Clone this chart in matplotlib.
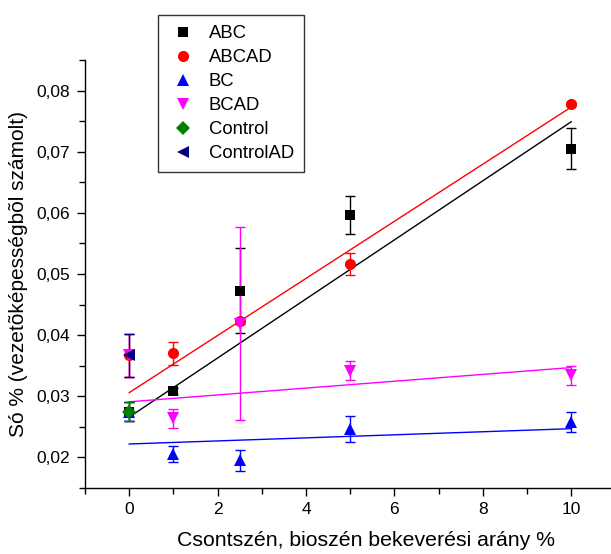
import matplotlib
matplotlib.use("Agg")
import matplotlib.pyplot as plt
from matplotlib.ticker import MultipleLocator, FuncFormatter
import numpy as np

plt.rcParams['font.family'] = ['Liberation Sans', 'DejaVu Sans']

# Data
x_vals = [0, 1, 2.5, 5, 10]

abc_y = [0.0275, 0.0309, 0.0473, 0.0597, 0.0705]
abc_err = [0.0016, 0.0005, 0.0069, 0.0031, 0.0034]

abcad_y = [0.0367, 0.0370, 0.0423, 0.0516, 0.0778]
abcad_err = [0.0035, 0.0019, 0.0005, 0.0018, 0.0003]

bc_y = [0.0275, 0.0206, 0.0195, 0.0247, 0.0258]
bc_err = [0.0016, 0.0013, 0.0017, 0.0021, 0.0017]

bcad_y = [0.0367, 0.0264, 0.0419, 0.0342, 0.0334]
bcad_err = [0.0035, 0.0016, 0.0158, 0.0016, 0.0016]

control_x = [0]
control_y = [0.0275]
control_err = [0.0016]

controlad_x = [0]
controlad_y = [0.0367]
controlad_err = [0.0035]

# Linear fit lines (values at x=0 and x=10)
fit_x = [0, 10]
abc_fit = [0.0266, 0.0749]
abcad_fit = [0.0306, 0.0773]
bc_fit = [0.0222, 0.0247]
bcad_fit = [0.0291, 0.0347]

fig = plt.figure(figsize=(6.11, 5.54), dpi=100)
ax = fig.add_axes([85/611, 1-488/554, (611-85)/611, (488-60)/554])

series = [
    ("ABC", x_vals, abc_y, abc_err, 's', 'black', 7),
    ("ABCAD", x_vals, abcad_y, abcad_err, 'o', '#ff0000', 8),
    ("BC", x_vals, bc_y, bc_err, '^', '#0000ff', 8.5),
    ("BCAD", x_vals, bcad_y, bcad_err, 'v', '#ff00ff', 8.5),
    ("Control", control_x, control_y, control_err, 'D', '#008000', 7),
    ("ControlAD", controlad_x, controlad_y, controlad_err, '<', '#000080', 8.5),
]
fits = [(abc_fit, 'black'), (abcad_fit, '#ff0000'), (bc_fit, '#0000ff'), (bcad_fit, '#ff00ff')]
for fy, c in fits:
    ax.plot(fit_x, fy, color=c, lw=1.0, zorder=2)

handles = []
for name, xs, ys, es, m, c, ms in series:
    ax.errorbar(xs, ys, yerr=es, fmt='none', ecolor=c, elinewidth=1.0,
                capsize=3.5, capthick=1.0, zorder=3)
    h, = ax.plot(xs, ys, linestyle='none', marker=m, color=c, markersize=ms,
                 markeredgewidth=0, label=name, zorder=4)
    handles.append(h)

ax.set_xlim(-1, 10.9)
ax.set_ylim(0.015, 0.085)
for s in ['top', 'right']:
    ax.spines[s].set_visible(False)
for s in ['left', 'bottom']:
    ax.spines[s].set_linewidth(1.0)

ax.xaxis.set_major_locator(MultipleLocator(2))
ax.xaxis.set_minor_locator(MultipleLocator(1))
ax.yaxis.set_major_locator(MultipleLocator(0.01))
ax.yaxis.set_minor_locator(MultipleLocator(0.005))
ax.yaxis.set_major_formatter(FuncFormatter(lambda v, p: f"{v:.2f}".replace('.', ',')))
ax.tick_params(which='major', direction='out', length=6, width=1.0, labelsize=12.5)
ax.tick_params(axis='x', which='major', pad=4)
ax.tick_params(axis='y', which='major', pad=5)
ax.tick_params(which='minor', direction='out', length=4, width=1.0)

ax.set_xlabel("Csontszén, bioszén bekeverési arány %", fontsize=15.3)
ax.xaxis.set_label_coords((366-85)/526, -0.10)
ax.set_ylabel("Só % (vezetõképességbõl számolt)", fontsize=15)
ax.yaxis.set_label_coords(-0.108, 0.5)

leg = ax.legend(handles=handles, loc='upper left',
                bbox_to_anchor=(158/611, 1-15/554), bbox_transform=fig.transFigure,
                borderaxespad=0,
                frameon=True, fancybox=False, edgecolor='black', fontsize=13.3,
                handletextpad=0.6, labelspacing=0.38, borderpad=0.55,
                handlelength=1.6)
leg.get_frame().set_linewidth(1.0)

fig.savefig("out.png", dpi=100)
